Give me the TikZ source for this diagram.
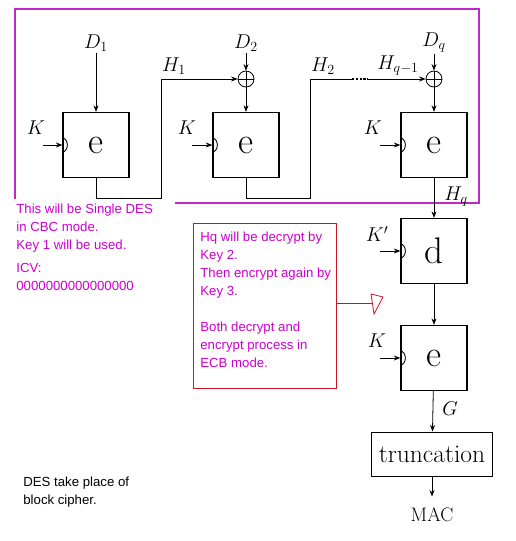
\RequirePackage{fix-cm}
\documentclass[tikz,border=0pt]{standalone}
\usepackage{fontspec}
\newfontfamily\notefont{Liberation Sans}
\usetikzlibrary{arrows.meta}
\definecolor{framemag}{RGB}{192,40,200}
\definecolor{notemag}{RGB}{204,0,204}
\definecolor{notered}{RGB}{204,20,36}
\begin{document}
\begin{tikzpicture}[x=1pt,y=-1pt,
		blk/.style={draw, line width=1.3pt, minimum width=66pt, minimum height=65pt, inner sep=0pt, font=\fontsize{37}{37}\selectfont},
		lbl/.style={inner sep=1pt, font=\fontsize{20}{22}\selectfont},
		note/.style={inner sep=0pt, align=left, anchor=north west, font=\notefont\fontsize{13.2}{18}\selectfont, text=notemag},
		xor/.style={draw, circle, minimum size=16pt, inner sep=0pt, path picture={\draw (path picture bounding box.north) -- (path picture bounding box.south) (path picture bounding box.west) -- (path picture bounding box.east);}},
		keycup/.style={line width=0.9pt},
		>={Stealth[length=6.5pt,width=5pt]}, line width=0.8pt]
		\useasboundingbox (0,0) rectangle (515,541);

		% CBC part
		\draw[framemag, line width=1.3pt] (175,203) -- (479,203) -- (479,9) -- (15,9) -- (15,199);

		\node[blk] (e1) at (96,145) {e};
		\node[blk] (e2) at (246,145) {e};
		\node[blk] (e3) at (434,145) {e};
		\node[xor] (x2) at (246,79) {};
		\node[xor] (x3) at (434,79) {};

		\node[lbl] (D1) at (96,43) {$D_1$};
		\node[lbl] (D2) at (246,43) {$D_2$};
		\node[lbl] (Dq) at (434,43) {$D_q$};
		\draw[->] (D1) -- (e1);
		\draw[->] (D2) -- (x2);
		\draw[->] (x2) -- (e2);
		\draw[->] (Dq) -- (x3);
		\draw[->] (x3) -- (e3);

		% chaining
		\coordinate (h1) at (161,79);
		\coordinate (h2) at (310,79);
		\coordinate (dl) at (352,79);
		\coordinate (dr) at (368,79);
		\draw[->] (e1.south) -- ++(0,20) -| (h1) -- (x2);
		\draw (e2.south) -- ++(0,20) -| (h2) -- (dl);
		\draw[line width=2.4pt, dash pattern=on 2.2pt off 1.6pt] (dl) -- (dr);
		\draw[->] (dr) -- (x3);
		\node[lbl] (H1) at (174,66) {$H_1$};
		\node[lbl] (H2) at (323,66) {$H_2$};
		\node[lbl] (Hq1) at (398,66) {$H_{q-1}$};

		% keys
		\foreach \b/\kx/\lx in {e1/43/36, e2/192/187, e3/380/373} {
			\coordinate (k\b) at (\kx,145);
			\node[lbl] (K\b) at (\lx,128) {$K$};
			\draw[->] (k\b) -- (\b.west);
			\draw[keycup] ([yshift=7pt]\b.west) arc[start angle=90, end angle=-90, x radius=5pt, y radius=7pt];
		}

		% EDE at the end
		\node[blk] (d1) at (434,251) {d};
		\node[blk] (e4) at (434,358) {e};
		\node[draw, line width=1pt, minimum width=121pt, minimum height=44pt, inner sep=0pt, font=\fontsize{25.5}{26}\selectfont] (tr) at (432,454) {truncation};
		\node[lbl, inner ysep=11pt, font=\fontsize{19.5}{20}\selectfont] (mac) at (432,515) {MAC};
		\draw[->] (e3) -- (d1);
		\draw[->] (d1) -- (e4);
		\draw[->] (e4) -- (tr);
		\draw[->] (tr) -- (mac);
		\node[lbl] (Hq) at (456,197) {$H_q$};
		\node[lbl] (G) at (450,409) {$G$};
		\foreach \b/\ky/\lbl in {d1/251/K', e4/358/K} {
			\coordinate (k\b) at (380,\ky);
			\node[lbl] (K\b) at (377,\ky-17) {$\lbl$};
			\draw[->] (k\b) -- (\b.west);
			\draw[keycup] ([yshift=7pt]\b.west) arc[start angle=90, end angle=-90, x radius=5pt, y radius=7pt];
		}

		% notes
		\node[note] (cbcnote) at (16,204) {This will be Single DES\\in CBC mode.\\Key 1 will be used.};
		\node[note] (icvnote) at (16,263) {ICV:\\0000000000000000};
		\node[draw=notered, line width=0.8pt, minimum width=143pt, minimum height=165pt, anchor=north west] (redbox) at (193,223) {};
		\node[note] (edednote) at (200,232) {Hq will be decrypt by\\Key 2.\\Then encrypt again by\\Key 3.\\[18pt]Both decrypt and\\encrypt process in\\ECB mode.};
		\coordinate (ptr) at (373,303);
		\draw[notered] (redbox.east |- ptr) -- (ptr);
		\draw[notered] (371,294) -- (383,297) -- (374,314) -- cycle;
		\node[note, text=black] (desnote) at (23,477) {DES take place of\\block cipher.};
	\end{tikzpicture}
\end{document}
